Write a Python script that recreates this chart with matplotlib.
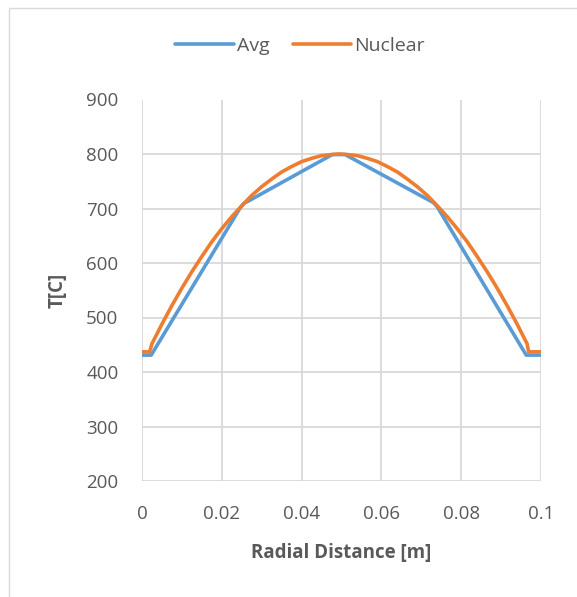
import matplotlib
matplotlib.use("Agg")
import matplotlib.pyplot as plt
from matplotlib.patches import Rectangle

# Data
avg_x = [0.0, 0.0023, 0.0245, 0.0255, 0.0477, 0.0509, 0.073, 0.074, 0.0963, 0.1]
avg_t = [431, 431, 700, 709, 799, 799, 711, 703, 431, 431]

nuc_x = [0.0, 0.0019, 0.0025, 0.005, 0.0075, 0.01, 0.0125, 0.015, 0.0175,
         0.02, 0.0225, 0.025, 0.0275, 0.03, 0.0325, 0.035, 0.0375, 0.04,
         0.0425, 0.045, 0.0475, 0.0495, 0.0515, 0.054, 0.0565, 0.059,
         0.0615, 0.064, 0.0665, 0.069, 0.0715, 0.074, 0.0765, 0.079,
         0.0815, 0.084, 0.0865, 0.089, 0.0915, 0.094, 0.0965, 0.0969, 0.1]
nuc_t = [437, 437, 452, 488, 522, 554, 584, 612, 639,
         663, 685, 705, 724, 740, 754, 767, 777, 786,
         792, 797, 799, 800, 799, 797, 792, 786,
         777, 767, 754, 740, 724, 705, 685, 663,
         639, 612, 584, 554, 522, 488, 452, 437, 437]

xticks = [0, 0.02, 0.04, 0.06, 0.08, 0.1]
xtick_labels = ["0", "0.02", "0.04", "0.06", "0.08", "0.1"]
yticks = [200, 300, 400, 500, 600, 700, 800, 900]

plt.rcParams['font.family'] = ['Open Sans', 'DejaVu Sans']
TXT = '#595959'
GRID = '#D9D9D9'

fig = plt.figure(figsize=(5.77, 5.97), dpi=100)
fig.patches.append(Rectangle((9/577, -0.1), 1.2, 1 - 8/597 + 0.1,
                             transform=fig.transFigure, fill=False,
                             edgecolor='#D9D9D9', linewidth=1.0))
ax = fig.add_axes([142/577, 1 - 481/597, (541 - 142)/577, (481 - 99.5)/597])

ax.plot(avg_x, avg_t, color='#5B9BD5', lw=2.6, label='Avg',
        solid_joinstyle='round', solid_capstyle='round')
ax.plot(nuc_x, nuc_t, color='#ED7D31', lw=2.6, label='Nuclear',
        solid_joinstyle='round', solid_capstyle='round')

ax.set_xlim(0, 0.1)
ax.set_ylim(200, 900)
ax.set_xticks(xticks)
ax.set_xticklabels(xtick_labels)
ax.set_yticks(yticks)
for s in ax.spines.values():
    s.set_visible(False)
ax.grid(True, color=GRID, lw=1.3)
ax.set_axisbelow(True)
ax.tick_params(length=0, labelsize=13.5, labelcolor=TXT, pad=17)

ax.set_xlabel('Radial Distance [m]', fontsize=13.5, fontweight='bold', color=TXT, labelpad=15)
ax.set_ylabel('T[C]', fontsize=13.5, fontweight='bold', color=TXT, labelpad=13)

leg = fig.legend(loc='center', bbox_to_anchor=(300/577, 1 - 46/597), ncol=2,
                 frameon=False, fontsize=14, handlelength=3.0,
                 columnspacing=1.2, handletextpad=0.15)
for t in leg.get_texts():
    t.set_color(TXT)

fig.savefig('out.png', dpi=100)
